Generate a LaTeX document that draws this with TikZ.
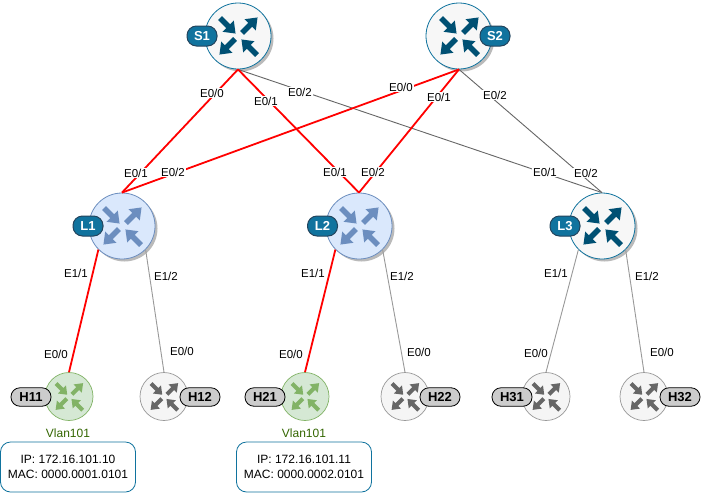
\documentclass[tikz,border=0pt]{standalone}
\usepackage{fontspec}
\setmainfont{Liberation Sans}
\usetikzlibrary{shadows}
\definecolor{sblue}{HTML}{10739E}
\definecolor{sdark}{HTML}{23445D}
\definecolor{sarrow}{HTML}{005073}
\definecolor{lfill}{HTML}{DAE8FC}
\definecolor{lline}{HTML}{6C8EBF}
\definecolor{gfill}{HTML}{D5E8D4}
\definecolor{gline}{HTML}{82B366}
\definecolor{hfill}{HTML}{F5F5F5}
\definecolor{hline}{HTML}{999999}
\definecolor{harrow}{HTML}{666666}
\definecolor{vlan}{HTML}{336600}
\newcommand{\arrowshape}[3]{%
  \fill[#3,shift={(#1)},rotate=#2] (0,-2.8) -- (11.5,-2.8) -- (11.5,-8) -- (22,0) -- (11.5,8) -- (11.5,2.8) -- (0,2.8) -- cycle;}
\newcommand{\routericon}[3]{%
  \begin{scope}[shift={(#1.center)},scale=#3]
    \arrowshape{-18,-18}{-45}{#2}
    \arrowshape{4,-3}{45}{#2}
    \arrowshape{-3,3}{225}{#2}
    \arrowshape{19,19}{135}{#2}
  \end{scope}}
\tikzset{
  x=1pt,y=-1pt,
  every node/.style={font=\fontsize{11.5}{13}\selectfont,text=black},
  base/.style={circle,inner sep=0pt,minimum size=66pt,drop shadow={shadow xshift=2.5pt,shadow yshift=-2.5pt,fill=black!45,opacity=.6}},
  spine/.style={base,draw=sblue,fill=white!97!black,line width=.8pt},
  leaf/.style={base,draw=lline,fill=lfill,line width=.8pt},
  hostbase/.style={circle,inner sep=0pt,minimum size=48pt,line width=.7pt},
  hgreen/.style={hostbase,draw=gline,fill=gfill},
  hgray/.style={hostbase,draw=hline,fill=hfill},
  badge/.style={rounded corners=9.5pt,minimum width=30pt,minimum height=20pt,inner sep=0pt,fill=sblue,draw=sdark,line width=1pt,text=white,font=\fontsize{13}{15}\selectfont\bfseries},
  hbadge/.style={rounded corners=9pt,minimum width=40pt,minimum height=18.5pt,inner sep=0pt,fill=black!20,draw=black,line width=.8pt,text=black,font=\fontsize{13}{15}\selectfont\bfseries},
  redl/.style={draw=red,line width=1.8pt},
  greyl/.style={draw=harrow,line width=.9pt},
  lightl/.style={draw=hline,line width=.9pt},
  lab/.style={fill=white,inner sep=1pt},
  info/.style={draw=sblue,rounded corners=10pt,minimum width=135pt,minimum height=50pt,inner sep=0pt,align=center,line width=.8pt,fill=white,font=\fontsize{12}{15}\selectfont},
  vl/.style={text=vlan,font=\fontsize{12}{14}\selectfont}
}
\begin{document}
\begin{tikzpicture}
\useasboundingbox (0,0) rectangle (701,493);
\fill[white] (0,0) rectangle (701,493);
% routers
\node[spine] (S1) at (238,36) {};
\node[spine] (S2) at (459,36) {};
\node[leaf] (L1) at (122,226) {};
\node[leaf] (L2) at (359,226) {};
\node[spine] (L3) at (602,226) {};
\node[hgreen] (H11) at (69,396.5) {};
\node[hgray] (H12) at (164,396.5) {};
\node[hgreen] (H21) at (305,396.5) {};
\node[hgray] (H22) at (405,396.5) {};
\node[hgray] (H31) at (546,396.5) {};
\node[hgray] (H32) at (644,396.5) {};
\routericon{S1}{sarrow}{1}
\routericon{S2}{sarrow}{1}
\routericon{L1}{lline}{1}
\routericon{L2}{lline}{1}
\routericon{L3}{sarrow}{1}
\routericon{H11}{gline}{.72}
\routericon{H12}{harrow}{.72}
\routericon{H21}{gline}{.72}
\routericon{H22}{harrow}{.72}
\routericon{H31}{harrow}{.72}
\routericon{H32}{harrow}{.72}
% connectors
\draw[greyl] (S1.south) -- (L3.north);
\draw[greyl] (S2.south) -- (L3.north);
\draw[lightl] (L1.315) -- (H12.north);
\draw[lightl] (L2.315) -- (H22.north);
\draw[lightl] (L3.225) -- (H31.north);
\draw[lightl] (L3.315) -- (H32.north);
\draw[redl] (S1.south) -- (L1.north);
\draw[redl] (S1.south) -- (L2.north);
\draw[redl] (S2.south) -- (L1.north);
\draw[redl] (S2.south) -- (L2.north);
\draw[redl] (L1.225) -- (H11.north);
\draw[redl] (L2.225) -- (H21.north);
% badges
\node[badge] (bS1) at (202,36) {S1};
\node[badge] (bS2) at (495,36) {S2};
\node[badge] (bL1) at (88,226) {L1};
\node[badge] (bL2) at (322.5,226) {L2};
\node[badge] (bL3) at (565,226) {L3};
\node[hbadge] (bH11) at (31,397) {H11};
\node[hbadge] (bH12) at (200,397) {H12};
\node[hbadge] (bH21) at (265,397) {H21};
\node[hbadge] (bH22) at (440,397) {H22};
\node[hbadge] (bH31) at (512,397) {H31};
\node[hbadge] (bH32) at (680,397) {H32};
% port labels
\node[lab] (p1) at (212,93) {E0/0};
\node[lab] (p2) at (266,101) {E0/1};
\node[lab] (p3) at (300,92) {E0/2};
\node[lab] (p4) at (401,87) {E0/0};
\node[lab] (p5) at (439,97) {E0/1};
\node[lab] (p6) at (495,95) {E0/2};
\node[lab] (p7) at (136,173) {E0/1};
\node[lab] (p8) at (173,172) {E0/2};
\node[lab] (p9) at (335,172) {E0/1};
\node[lab] (p10) at (373,172) {E0/2};
\node[lab] (p11) at (545,172) {E0/1};
\node[lab] (p12) at (586,173) {E0/2};
\node[lab] (p13) at (76,273) {E1/1};
\node[lab] (p14) at (166,276) {E1/2};
\node[lab] (p15) at (313,273) {E1/1};
\node[lab] (p16) at (402,276) {E1/2};
\node[lab] (p17) at (556,273) {E1/1};
\node[lab] (p18) at (647,276) {E1/2};
\node[lab] (p19) at (56,354) {E0/0};
\node[lab] (p20) at (182,351) {E0/0};
\node[lab] (p21) at (291,354) {E0/0};
\node[lab] (p22) at (419,352) {E0/0};
\node[lab] (p23) at (536,353) {E0/0};
\node[lab] (p24) at (662,352) {E0/0};
% host info
\node[vl] (v1) at (68,433) {Vlan101};
\node[vl] (v2) at (304,433) {Vlan101};
\node[info] (i1) at (68,467) {IP: 172.16.101.10\\MAC: 0000.0001.0101};
\node[info] (i2) at (304,467) {IP: 172.16.101.11\\MAC: 0000.0002.0101};
\end{tikzpicture}
\end{document}
